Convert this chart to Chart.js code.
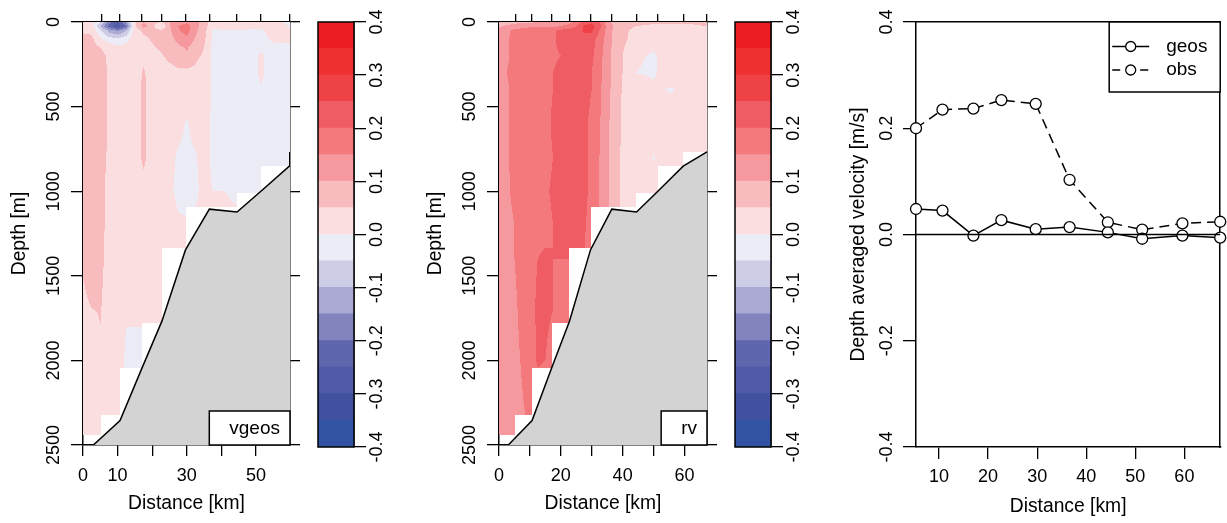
<!DOCTYPE html>
<html>
<head>
<meta charset="utf-8">
<script src="https://cdn.jsdelivr.net/npm/chart.js@4.4.1/dist/chart.umd.min.js"></script>
<style>
  body { margin: 0; background: #fff; }
  #wrap { position: relative; width: 1227px; height: 523px; overflow: hidden; }
  canvas { position: absolute; top: 0; }
</style>
</head>
<body>
<div id="wrap">
  <canvas id="vgeosChart" width="300" height="523" style="left:0px"></canvas>
  <canvas id="vgeosBar" width="120" height="523" style="left:300px"></canvas>
  <canvas id="rvChart" width="301" height="523" style="left:416px"></canvas>
  <canvas id="rvBar" width="120" height="523" style="left:717px"></canvas>
  <canvas id="velChart" width="387" height="523" style="left:840px"></canvas>
</div>
<script>
// ---- data ----
const stationKm = [5.3, 10.7, 17.0, 22.7, 29.7, 36.6, 44.4, 51.4, 59.6, 67.3];
const geosVel = [0.048, 0.045, -0.002, 0.027, 0.010, 0.014, 0.004, -0.008, -0.002, -0.006];
const obsVel = [0.200, 0.235, 0.237, 0.253, 0.246, 0.103, 0.023, 0.009, 0.021, 0.024];

// deepest data per section station (white steps above the bottom)
const sectionKm = [0, 5.3, 10.7, 17.0, 22.7, 29.7, 36.6, 44.4, 51.4, 59.6, 67.3];
const sectionBottom = [2440, 2440, 2323, 2047, 1777, 1336, 1092, 1110, 1009, 849, 770];

// bottom topography
const bathyKm = [3.0, 10.7, 17.0, 22.8, 29.6, 36.5, 44.5, 51.4, 59.6, 67.3];
const bathyDepth = [2500, 2356, 2047, 1768, 1347, 1106, 1123, 1000, 852, 767];

// colour levels
const levelEdges = [-0.4, -0.35, -0.3, -0.25, -0.2, -0.15, -0.1, -0.05, 0, 0.05, 0.1, 0.15, 0.2, 0.25, 0.3, 0.35, 0.4];
const levelColors = ['#3252A4', '#4250A0', '#505AA8', '#5F66AE', '#8284BE', '#AAAAD5', '#CDCDE6', '#ECECF6',
                     '#FBDEE0', '#F8BCBF', '#F5999E', '#F3797D', '#F05C63', '#EF4246', '#EE2F2F', '#ED1D24'];

// tick values / labels
const depthTicks = [0, 500, 1000, 1500, 2000, 2500];
const colorTicks = [-0.4, -0.3, -0.2, -0.1, 0, 0.1, 0.2, 0.3, 0.4];
const velTicks = [-0.4, -0.2, 0, 0.2, 0.4];
const vgeosDistTicks = [0, 10, 20, 30, 40, 50];
const vgeosDistLabels = [0, 10, 30, 50];
const rvDistTicks = [0, 10, 20, 30, 40, 50, 60];
const rvDistLabels = [0, 20, 40, 60];
const velDistTicks = [10, 20, 30, 40, 50, 60];

// vgeos section [m/s]: rows = depth, cols = distance
const vgeosKm = [0, 2.5, 5, 7.5, 10, 12.5, 15, 17.5, 20, 22.5, 25, 27.5, 30, 32.5, 35, 37.5, 41, 46, 51.5, 56, 60];
const vgeosDepth = [0, 25, 50, 100, 150, 200, 300, 450, 600, 800, 1000, 1200, 1500, 1800, 2100, 2500];
const vgeosVel = [
  [0.03, 0.03, -0.04, -0.18, -0.25, -0.14, 0.04, 0.10, 0.07, 0.05, 0.10, 0.13, 0.14, 0.12, 0.07, 0.02, 0.02, 0.03, 0.02, 0.01, -0.01],
  [0.035, 0.03, -0.1, -0.22, -0.28, -0.2, 0.04, 0.12, 0.07, -0.01, 0.095, 0.15, 0.17, 0.12, 0.075, 0.01, 0.02, 0.02, 0.01, 0.02, -0.005],
  [0.045, 0.04, -0.04, -0.12, -0.16, -0.1, 0.03, 0.06, 0.065, 0.06, 0.09, 0.145, 0.17, 0.11, 0.07, -0.005, -0.005, -0.005, -0.005, 0.02, 0.02],
  [0.06, 0.06, 0.01, -0.03, -0.04, -0.02, 0.03, 0.04, 0.055, 0.065, 0.08, 0.115, 0.14, 0.095, 0.06, -0.01, -0.01, -0.01, -0.01, 0.01, 0.01],
  [0.065, 0.07, 0.05, 0.035, 0.01, 0.02, 0.03, 0.035, 0.045, 0.058, 0.07, 0.09, 0.105, 0.075, 0.05, -0.01, -0.01, -0.01, -0.002, -0.01, -0.01],
  [0.07, 0.07, 0.06, 0.045, 0.025, 0.03, 0.03, 0.04, 0.035, 0.045, 0.06, 0.075, 0.095, 0.06, 0.042, -0.01, -0.01, -0.01, 0.002, -0.01, -0.01],
  [0.07, 0.07, 0.065, 0.045, 0.03, 0.03, 0.03, 0.055, 0.03, 0.03, 0.035, 0.04, 0.035, 0.038, 0.03, -0.01, -0.01, -0.01, 0.002, -0.01, -0.01],
  [0.07, 0.07, 0.065, 0.045, 0.03, 0.03, 0.03, 0.06, 0.03, 0.03, 0.03, 0.03, 0.02, 0.03, 0.03, -0.01, -0.01, -0.01, -0.002, -0.01, -0.01],
  [0.07, 0.07, 0.065, 0.045, 0.03, 0.03, 0.03, 0.06, 0.03, 0.03, 0.028, 0.015, -0.005, 0.018, 0.025, -0.01, -0.01, -0.01, -0.01, -0.01, -0.01],
  [0.07, 0.07, 0.062, 0.045, 0.03, 0.03, 0.03, 0.058, 0.03, 0.03, 0.012, -0.006, -0.012, -0.005, 0.02, -0.01, -0.01, -0.01, -0.01, -0.01, -0.01],
  [0.07, 0.07, 0.06, 0.04, 0.03, 0.03, 0.03, 0.035, 0.03, 0.025, 0.006, -0.008, -0.015, -0.008, 0.012, 0.0, 0.0, -0.01, -0.01, -0.01, -0.01],
  [0.066, 0.07, 0.06, 0.04, 0.03, 0.03, 0.03, 0.03, 0.03, 0.03, 0.02, 0.005, 0.005, 0.01, 0.01, 0.01, 0.01, 0.01, 0.01, 0.01, 0.01],
  [0.05, 0.068, 0.055, 0.04, 0.03, 0.03, 0.03, 0.03, 0.03, 0.03, 0.02, 0.02, 0.02, 0.02, 0.02, 0.02, 0.02, 0.02, 0.02, 0.02, 0.02],
  [0.035, 0.04, 0.05, 0.035, 0.02, 0.0, 0.0, 0.0, 0.025, 0.02, 0.02, 0.02, 0.02, 0.02, 0.02, 0.02, 0.02, 0.02, 0.02, 0.02, 0.02],
  [0.025, 0.03, 0.035, 0.03, 0.02, -0.01, -0.01, -0.01, 0.02, 0.02, 0.02, 0.02, 0.02, 0.02, 0.02, 0.02, 0.02, 0.02, 0.02, 0.02, 0.02],
  [0.02, 0.025, 0.03, 0.025, 0.02, -0.01, -0.01, -0.01, 0.02, 0.02, 0.02, 0.02, 0.02, 0.02, 0.02, 0.02, 0.02, 0.02, 0.02, 0.02, 0.02]
];

// rv section [m/s]
const rvKm = [0, 2.5, 5, 7.5, 10, 12.5, 15, 17.5, 20, 22.5, 25, 27.5, 30, 32.5, 35, 37.5, 40, 44, 50, 56, 62, 67.3];
const rvDepth = [0, 25, 50, 100, 200, 300, 400, 600, 800, 1000, 1200, 1400, 1700, 2000, 2300, 2500];
const rvVel = [
  [0.06, 0.07, 0.08, 0.09, 0.09, 0.1, 0.1, 0.11, 0.12, 0.13, 0.16, 0.22, 0.24, 0.2, 0.12, 0.08, 0.07, 0.07, 0.06, 0.06, 0.06, 0.07],
  [0.09, 0.11, 0.13, 0.13, 0.14, 0.14, 0.14, 0.14, 0.15, 0.17, 0.2, 0.26, 0.27, 0.22, 0.14, 0.09, 0.07, 0.05, 0.04, 0.04, 0.04, 0.05],
  [0.12, 0.14, 0.16, 0.17, 0.18, 0.18, 0.19, 0.195, 0.21, 0.22, 0.23, 0.255, 0.26, 0.2, 0.13, 0.085, 0.06, 0.04, 0.02, 0.03, 0.03, 0.03],
  [0.12, 0.14, 0.17, 0.18, 0.19, 0.19, 0.19, 0.195, 0.21, 0.22, 0.23, 0.235, 0.22, 0.18, 0.13, 0.08, 0.06, 0.035, 0.01, 0.025, 0.03, 0.03],
  [0.12, 0.14, 0.17, 0.18, 0.19, 0.19, 0.19, 0.195, 0.2, 0.21, 0.22, 0.225, 0.21, 0.17, 0.12, 0.08, 0.05, 0.005, -0.004, 0.02, 0.025, 0.03],
  [0.12, 0.15, 0.17, 0.18, 0.19, 0.195, 0.195, 0.2, 0.21, 0.22, 0.22, 0.22, 0.2, 0.165, 0.12, 0.08, 0.05, 0.0, -0.004, 0.02, 0.025, 0.03],
  [0.12, 0.14, 0.17, 0.18, 0.19, 0.19, 0.19, 0.2, 0.22, 0.22, 0.22, 0.215, 0.2, 0.16, 0.115, 0.08, 0.045, 0.02, 0.005, -0.003, 0.025, 0.03],
  [0.12, 0.14, 0.17, 0.18, 0.19, 0.19, 0.19, 0.205, 0.23, 0.23, 0.225, 0.21, 0.19, 0.155, 0.11, 0.075, 0.045, 0.025, 0.02, 0.02, 0.02, 0.025],
  [0.12, 0.14, 0.17, 0.18, 0.19, 0.19, 0.19, 0.2, 0.215, 0.22, 0.22, 0.21, 0.19, 0.15, 0.11, 0.07, 0.04, 0.025, -0.002, 0.02, -0.003, 0.02],
  [0.12, 0.14, 0.165, 0.18, 0.19, 0.19, 0.195, 0.205, 0.225, 0.23, 0.22, 0.21, 0.19, 0.15, 0.11, 0.07, 0.04, 0.025, 0.02, 0.02, 0.02, 0.02],
  [0.12, 0.13, 0.15, 0.175, 0.185, 0.19, 0.19, 0.2, 0.215, 0.22, 0.215, 0.205, 0.185, 0.15, 0.11, 0.07, 0.04, 0.025, 0.02, 0.02, 0.02, 0.02],
  [0.12, 0.13, 0.15, 0.17, 0.19, 0.2, 0.205, 0.2, 0.2, 0.2, 0.2, 0.2, 0.18, 0.15, 0.11, 0.07, 0.04, 0.025, 0.02, 0.02, 0.02, 0.02],
  [0.11, 0.12, 0.14, 0.165, 0.19, 0.205, 0.205, 0.2, 0.19, 0.19, 0.19, 0.19, 0.18, 0.15, 0.11, 0.07, 0.04, 0.025, 0.02, 0.02, 0.02, 0.02],
  [0.11, 0.12, 0.135, 0.155, 0.18, 0.205, 0.2, 0.19, 0.19, 0.19, 0.19, 0.19, 0.18, 0.15, 0.11, 0.07, 0.04, 0.025, 0.02, 0.02, 0.02, 0.02],
  [0.11, 0.115, 0.13, 0.145, 0.16, 0.17, 0.17, 0.17, 0.17, 0.17, 0.17, 0.17, 0.17, 0.15, 0.11, 0.07, 0.04, 0.025, 0.02, 0.02, 0.02, 0.02],
  [0.11, 0.115, 0.125, 0.14, 0.15, 0.16, 0.16, 0.16, 0.16, 0.16, 0.16, 0.16, 0.16, 0.15, 0.11, 0.07, 0.04, 0.025, 0.02, 0.02, 0.02, 0.02]
];

// ---- helpers ----
Chart.defaults.font.family = "'Liberation Sans', Arial, sans-serif";
Chart.defaults.color = '#000';
Chart.defaults.animation = false;

const BLACK = '#000';
const TICK_FONT = { size: 18 };
const TITLE_FONT = { size: 19.3 };
const TEXT_FONT = "19px 'Liberation Sans', Arial, sans-serif";

function locate(arr, v) {
  if (v <= arr[0]) return { i: 0, t: 0 };
  for (let k = 0; k < arr.length - 1; k++) {
    if (v <= arr[k + 1]) return { i: k, t: (v - arr[k]) / (arr[k + 1] - arr[k]) };
  }
  return { i: arr.length - 2, t: 1 };
}

function bottomAt(d) {
  const s = locate(sectionKm, d);
  return Math.min(sectionBottom[s.i], sectionBottom[s.i + 1]);
}

function levelColor(v) {
  let k = Math.floor((v - levelEdges[0]) / 0.05 + 1e-9);
  k = Math.max(0, Math.min(levelColors.length - 1, k));
  return levelColors[k];
}

// filled contour of a section, drawn under the bathymetry
function fieldPlugin(km, depth, vel) {
  return {
    id: 'field',
    beforeDatasetsDraw(chart) {
      const { ctx, chartArea: a, scales: { x, y } } = chart;
      const x0 = Math.floor(a.left), x1 = Math.ceil(a.right);
      const y0 = Math.floor(a.top), y1 = Math.ceil(a.bottom);
      const cols = [];
      for (let px = x0; px < x1; px++) {
        const d = x.getValueForPixel(px + 0.5);
        cols.push({ c: locate(km, d), bottom: bottomAt(d) });
      }
      ctx.save();
      ctx.beginPath();
      ctx.rect(a.left, a.top, a.right - a.left, a.bottom - a.top);
      ctx.clip();
      for (let py = y0; py < y1; py++) {
        const z = y.getValueForPixel(py + 0.5);
        const r = locate(depth, z);
        const rowA = vel[r.i], rowB = vel[r.i + 1];
        let runStart = x0, runColor = null;
        for (let i = 0; i <= cols.length; i++) {
          let color = null;
          if (i < cols.length && z <= cols[i].bottom) {
            const c = cols[i].c;
            const top = rowA[c.i] + (rowA[c.i + 1] - rowA[c.i]) * c.t;
            const bot = rowB[c.i] + (rowB[c.i + 1] - rowB[c.i]) * c.t;
            color = levelColor(top + (bot - top) * r.t);
          }
          if (color !== runColor || i === cols.length) {
            if (runColor) {
              ctx.fillStyle = runColor;
              ctx.fillRect(runStart, py, x0 + i - runStart, 1);
            }
            runColor = color;
            runStart = x0 + i;
          }
        }
      }
      ctx.restore();
    }
  };
}

// boxed name in the bottom right corner
function tagPlugin(text) {
  return {
    id: 'tag',
    afterDatasetsDraw(chart) {
      const { ctx, chartArea: a } = chart;
      ctx.save();
      ctx.font = TEXT_FONT;
      const w = ctx.measureText(text).width + 30;
      const h = 34;
      ctx.fillStyle = '#fff';
      ctx.fillRect(a.right - w, a.bottom - h, w, h);
      ctx.strokeStyle = BLACK;
      ctx.lineWidth = 1.5;
      ctx.strokeRect(a.right - w, a.bottom - h, w, h);
      ctx.fillStyle = BLACK;
      ctx.textAlign = 'right';
      ctx.textBaseline = 'middle';
      ctx.fillText(text, a.right - 10, a.bottom - h / 2 + 1);
      ctx.restore();
    }
  };
}

function tickGrid(len) {
  return { drawOnChartArea: false, drawTicks: true, tickLength: len, color: BLACK, lineWidth: 1.3 };
}
const border = { display: true, color: BLACK, width: 1.5 };

function makeSection(id, km, depth, vel, xmax, xTicks, xLabels, tag) {
  return new Chart(document.getElementById(id), {
    type: 'line',
    data: {
      datasets: [{
        label: 'bottom',
        data: bathyKm.map((d, i) => ({ x: d, y: bathyDepth[i] })),
        borderColor: BLACK,
        borderWidth: 1.5,
        backgroundColor: '#D3D3D3',
        fill: { value: 2500 },
        pointRadius: 0,
        tension: 0
      }]
    },
    options: {
      responsive: false,
      layout: { padding: { left: 0, top: 13, right: 0, bottom: 8 } },
      plugins: { legend: { display: false }, tooltip: { enabled: false } },
      scales: {
        x: {
          type: 'linear', position: 'bottom', min: 0, max: xmax,
          afterBuildTicks: s => { s.ticks = xTicks.map(v => ({ value: v })); },
          ticks: { autoSkip: false, maxRotation: 0, padding: 9, font: TICK_FONT,
                   callback: v => xLabels.includes(v) ? String(v) : '' },
          grid: tickGrid(11), border,
          title: { display: true, text: 'Distance [km]', font: TITLE_FONT, padding: { top: 0, bottom: 0 } },
          afterFit: s => { s.height = 70; }
        },
        x2: {
          type: 'linear', position: 'top', min: 0, max: xmax,
          afterBuildTicks: s => { s.ticks = stationKm.filter(v => v <= xmax).map(v => ({ value: v })); },
          ticks: { display: false },
          grid: tickGrid(8), border,
          afterFit: s => { s.height = 9; }
        },
        y: {
          type: 'linear', position: 'left', reverse: true, min: 0, max: 2500,
          afterBuildTicks: s => { s.ticks = depthTicks.map(v => ({ value: v })); },
          ticks: { autoSkip: false, minRotation: 90, maxRotation: 90, crossAlign: 'center',
                   padding: -3, font: TICK_FONT, callback: v => String(v) },
          grid: tickGrid(12), border,
          title: { display: true, text: 'Depth [m]', font: TITLE_FONT, padding: { top: 8, bottom: 0 } },
          afterFit: s => { s.width = 83; }
        },
        y2: {
          type: 'linear', position: 'right', reverse: true, min: 0, max: 2500,
          afterBuildTicks: s => { s.ticks = depthTicks.map(v => ({ value: v })); },
          ticks: { display: false },
          grid: tickGrid(10), border,
          afterFit: s => { s.width = 10; }
        }
      }
    },
    plugins: [fieldPlugin(km, depth, vel), tagPlugin(tag)]
  });
}

const boxPlugin = {
  id: 'box',
  afterDatasetsDraw(chart) {
    const { ctx, chartArea: a } = chart;
    ctx.save();
    ctx.strokeStyle = BLACK;
    ctx.lineWidth = 1.5;
    ctx.strokeRect(a.left, a.top, a.right - a.left, a.bottom - a.top);
    ctx.restore();
  }
};

function makeColorbar(id) {
  return new Chart(document.getElementById(id), {
    type: 'bar',
    data: {
      labels: ['v'],
      datasets: levelColors.map((c, i) => ({
        data: [[levelEdges[i], levelEdges[i + 1]]],
        backgroundColor: c,
        borderWidth: 0,
        grouped: false,
        categoryPercentage: 1,
        barPercentage: 1,
        inflateAmount: 0.6
      }))
    },
    options: {
      responsive: false,
      layout: { padding: { left: 18, top: 22, right: 0, bottom: 76 } },
      plugins: { legend: { display: false }, tooltip: { enabled: false } },
      scales: {
        x: { display: false },
        y: {
          type: 'linear', position: 'right', min: -0.4, max: 0.4,
          afterBuildTicks: s => { s.ticks = colorTicks.map(v => ({ value: v })); },
          ticks: { autoSkip: false, minRotation: 90, maxRotation: 90, crossAlign: 'center',
                   padding: -4.8, font: TICK_FONT, callback: v => (Math.abs(v) < 1e-9 ? 0 : v).toFixed(1) },
          grid: tickGrid(12), border,
          afterFit: s => { s.width = 66; }
        }
      }
    },
    plugins: [boxPlugin]
  });
}

makeSection('vgeosChart', vgeosKm, vgeosDepth, vgeosVel, 59.8, vgeosDistTicks, vgeosDistLabels, 'vgeos');
makeColorbar('vgeosBar');
makeSection('rvChart', rvKm, rvDepth, rvVel, 67.3, rvDistTicks, rvDistLabels, 'rv');
makeColorbar('rvBar');

// ---- depth averaged velocity ----
const zeroLine = {
  id: 'zeroLine',
  afterDatasetsDraw(chart) {
    const { ctx, chartArea: a, scales: { y } } = chart;
    const py = y.getPixelForValue(0);
    ctx.save();
    ctx.strokeStyle = BLACK;
    ctx.lineWidth = 1.3;
    ctx.beginPath();
    ctx.moveTo(a.left, py);
    ctx.lineTo(a.right, py);
    ctx.stroke();
    ctx.restore();
  }
};

const velLegend = {
  id: 'velLegend',
  afterDraw(chart) {
    const { ctx, chartArea: a } = chart;
    const w = 111, h = 70, left = a.right - w, top = a.top;
    ctx.save();
    ctx.fillStyle = '#fff';
    ctx.fillRect(left, top, w, h);
    ctx.strokeStyle = BLACK;
    ctx.lineWidth = 1.5;
    ctx.strokeRect(left, top, w, h);
    const rows = [{ text: 'geos', dash: [], y: top + 24.5 }, { text: 'obs', dash: [8, 6], y: top + 48 }];
    ctx.font = TEXT_FONT;
    ctx.textBaseline = 'middle';
    rows.forEach(r => {
      ctx.lineWidth = 1.5;
      ctx.setLineDash(r.dash);
      ctx.beginPath();
      ctx.moveTo(left + 3, r.y);
      ctx.lineTo(left + 40, r.y);
      ctx.stroke();
      ctx.setLineDash([]);
      ctx.lineWidth = 1.3;
      ctx.fillStyle = '#fff';
      ctx.beginPath();
      ctx.arc(left + 21.5, r.y, 5, 0, Math.PI * 2);
      ctx.fill();
      ctx.stroke();
      ctx.fillStyle = BLACK;
      ctx.fillText(r.text, left + 57, r.y);
    });
    ctx.restore();
  }
};

new Chart(document.getElementById('velChart'), {
  type: 'line',
  data: {
    datasets: [
      {
        label: 'geos',
        data: stationKm.map((d, i) => ({ x: d, y: geosVel[i] })),
        borderColor: BLACK, borderWidth: 1.5,
        pointRadius: 5.5, pointBorderWidth: 1.3,
        pointBorderColor: BLACK, pointBackgroundColor: '#fff',
        tension: 0, clip: 8
      },
      {
        label: 'obs',
        data: stationKm.map((d, i) => ({ x: d, y: obsVel[i] })),
        borderColor: BLACK, borderWidth: 1.5, borderDash: [10, 6],
        pointRadius: 5.5, pointBorderWidth: 1.3,
        pointBorderColor: BLACK, pointBackgroundColor: '#fff',
        tension: 0, clip: 8
      }
    ]
  },
  options: {
    responsive: false,
    layout: { padding: { left: 0, top: 22, right: 6, bottom: 5 } },
    plugins: { legend: { display: false }, tooltip: { enabled: false } },
    scales: {
      x: {
        type: 'linear', position: 'bottom', min: stationKm[0], max: stationKm[stationKm.length - 1],
        afterBuildTicks: s => { s.ticks = velDistTicks.map(v => ({ value: v })); },
        ticks: { autoSkip: false, maxRotation: 0, padding: 7.7, font: TICK_FONT, callback: v => String(v) },
        grid: tickGrid(12), border,
        title: { display: true, text: 'Distance [km]', font: TITLE_FONT, padding: { top: 0, bottom: 0 } },
        afterFit: s => { s.height = 71; }
      },
      x2: {
        type: 'linear', position: 'top', min: stationKm[0], max: stationKm[stationKm.length - 1],
        ticks: { display: false }, grid: { display: false }, border,
        afterFit: s => { s.height = 0; }
      },
      y: {
        type: 'linear', position: 'left', min: -0.4, max: 0.4,
        afterBuildTicks: s => { s.ticks = velTicks.map(v => ({ value: v })); },
        ticks: { autoSkip: false, minRotation: 90, maxRotation: 90, crossAlign: 'center',
                 padding: 0.8, font: TICK_FONT, callback: v => (Math.abs(v) < 1e-9 ? 0 : v).toFixed(1) },
        grid: tickGrid(13), border,
        title: { display: true, text: 'Depth averaged velocity [m/s]', font: TITLE_FONT, padding: { top: 6.7, bottom: 0 } },
        afterFit: s => { s.width = 76; }
      },
      y2: {
        type: 'linear', position: 'right', min: -0.4, max: 0.4,
        ticks: { display: false }, grid: { display: false }, border,
        afterFit: s => { s.width = 0; }
      }
    }
  },
  plugins: [zeroLine, velLegend]
});
</script>
</body>
</html>
